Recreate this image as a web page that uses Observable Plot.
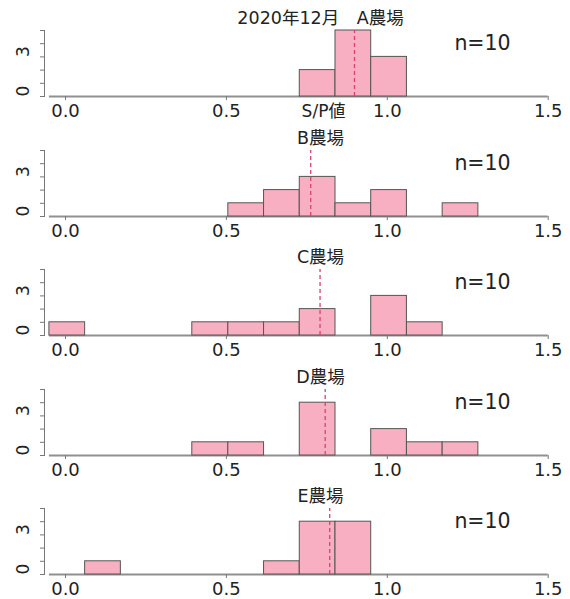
<!DOCTYPE html>
<html><head><meta charset="utf-8">
<script src="https://cdn.jsdelivr.net/npm/d3@7"></script>
<script src="https://cdn.jsdelivr.net/npm/@observablehq/plot@0.6"></script>
<style>body{margin:0;background:#fff;} svg{display:block}</style>
</head><body><div id="chart"></div>
<script>
// ---- data ----
const farms = ["A", "B", "C", "D", "E"];
const titles = ["2020年12月　A農場", "B農場", "C農場", "D農場", "E農場"];
const nLabels = ["n=10", "n=10", "n=10", "n=10", "n=10"];
const xLabel = "S/P値";
const binEdges = [-0.05, 0.061, 0.172, 0.283, 0.394, 0.506, 0.617, 0.728, 0.839, 0.95, 1.061, 1.172, 1.283];
const countsA = [0, 0, 0, 0, 0, 0, 0, 2, 5, 3, 0, 0];
const countsB = [0, 0, 0, 0, 0, 1, 2, 3, 1, 2, 0, 1];
const countsC = [1, 0, 0, 0, 1, 1, 1, 2, 0, 3, 1, 0];
const countsD = [0, 0, 0, 0, 1, 1, 0, 4, 0, 2, 1, 1];
const countsE = [0, 1, 0, 0, 0, 0, 1, 4, 4, 0, 0, 0];
const meanLines = [0.898, 0.762, 0.791, 0.807, 0.821];
const xTicks = [0, 0.5, 1.0, 1.5];
const yTicks = [0, 1, 2, 3, 4, 5];
const yTickLabels = [0, 3];
const baselineExtent = [-0.05, 1.5];

const allCounts = [countsA, countsB, countsC, countsD, countsE];
const panelHeights = [120, 119, 120, 119, 121];
const pink = "#f8afc2";
const font = "'DejaVu Sans', 'Noto Sans CJK JP', sans-serif";

const container = document.getElementById("chart");
farms.forEach((f, i) => {
  const h = panelHeights[i];
  const bins = binEdges.slice(0, -1)
    .map((x1, j) => ({x1, x2: binEdges[j + 1], count: allCounts[i][j]}))
    .filter(d => d.count > 0);
  const marks = [
    Plot.ruleY([0], {x1: baselineExtent[0], x2: baselineExtent[1], stroke: "#909090", strokeWidth: 2}),
    Plot.rectY(bins, {x1: "x1", x2: "x2", y: "count", fill: pink, stroke: "#555", strokeWidth: 1}),
    Plot.ruleX([meanLines[i]], {y1: 0, y2: yTicks[yTicks.length - 1], stroke: "#d8436d", strokeDasharray: "4,3", strokeWidth: 1.3}),
    Plot.axisX({ticks: xTicks, tickFormat: d3.format(".1f"), tickSize: 4, tickPadding: 4, fontSize: 18, stroke: "#777", fill: "#222", label: null}),
    Plot.axisY({ticks: yTicks, tickSize: 4, tickFormat: () => "", label: null, stroke: "#777"}),
    Plot.frame({anchor: "left", stroke: "#777"}),
    Plot.text(yTickLabels, {y: d => d, text: d => String(d), frameAnchor: "left", dx: -21, rotate: -90, fontSize: 17, fill: "#222"}),
    Plot.text([titles[i]], {text: d => d, frameAnchor: "top", dx: 13, dy: -12, lineAnchor: "middle", fontSize: 17.5, fill: "#222"}),
    Plot.text([nLabels[i]], {text: d => d, frameAnchor: "top-right", dx: -88, dy: 13, textAnchor: "middle", lineAnchor: "middle", fontSize: 20.5, fill: "#222"})
  ];
  if (i === 0) marks.push(Plot.text([xLabel], {text: d => d, frameAnchor: "bottom", dx: 16, dy: 15, lineAnchor: "middle", fontSize: 17, fill: "#222"}));
  const svg = Plot.plot({
    width: 570,
    height: h,
    marginLeft: 44,
    marginRight: 0,
    marginTop: 30,
    marginBottom: h - 96,
    style: {fontFamily: font, background: "#fff", color: "#222", overflow: "visible"},
    x: {domain: [0, 1.5], range: [65, 547.7]},
    y: {domain: [0, 5]},
    marks
  });
  container.appendChild(svg);
});
</script>
</body></html>
